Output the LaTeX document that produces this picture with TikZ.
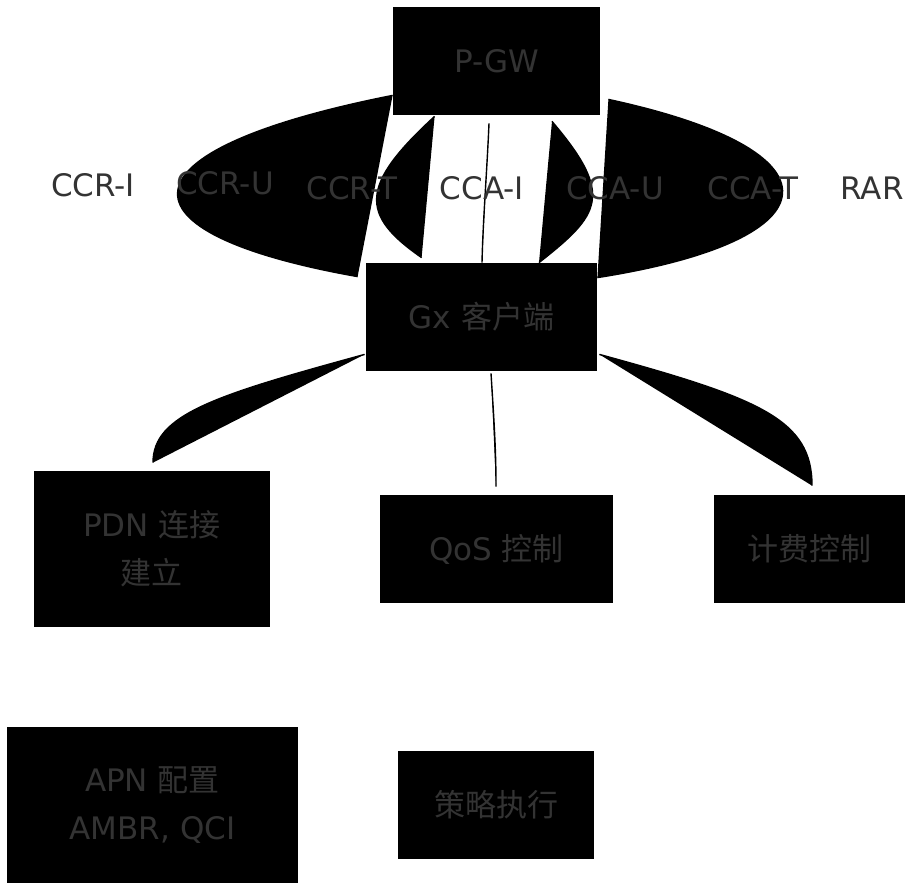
\documentclass[tikz,border=0pt]{standalone}
\usepackage{fontspec}
\setmainfont{DejaVu Sans}
\newfontfamily\cjk{Noto Sans CJK SC}
\usetikzlibrary{calc}
\usepackage{xcolor}
\definecolor{grisTexto}{RGB}{51,51,51}

\begin{document}
\begin{tikzpicture}[x=0.5pt,y=-0.5pt,
        caja/.style={rectangle,fill=black,text=grisTexto,align=center,inner sep=0pt,
                font=\fontsize{15.5}{24}\selectfont},
        etiqueta/.style={text=grisTexto,inner sep=0pt,font=\fontsize{15.5}{24}\selectfont},
        enlace/.style={fill=black,draw=black,line width=0.7pt}]
        \useasboundingbox (0,0) rectangle (905,885);
        % cajas
        \node[caja,minimum width=103.5pt,minimum height=54pt] (pgw) at (496.5,61) {P-GW};
        \node[caja,minimum width=115.5pt,minimum height=54pt] (gx) at (481.5,317) {Gx {\cjk 客户端}};
        \node[caja,minimum width=118pt,minimum height=78pt] (pdn) at (152,549) {PDN {\cjk 连接}\\{\cjk 建立}};
        \node[caja,minimum width=116.5pt,minimum height=54pt] (qos) at (496.5,549) {QoS {\cjk 控制}};
        \node[caja,minimum width=95.5pt,minimum height=54pt] (cobro) at (809.5,549) {{\cjk 计费控制}};
        \node[caja,minimum width=145.5pt,minimum height=78pt] (apn) at (152.5,805) {APN {\cjk 配置}\\AMBR, QCI};
        \node[caja,minimum width=98pt,minimum height=54pt] (politica) at (496,805) {{\cjk 策略执行}};
        % enlaces entre P-GW y Gx
        \draw[enlace] ($(pgw.south west)+(0,-20)$) .. controls +(-278,55) and +(-248,-44) .. ($(gx.north west)+(-8,14)$);
        \draw[enlace] ($(pgw.south west)+(42,1)$) .. controls +(-75,69) and +(-62,-43) .. ($(gx.north west)+(56,-5)$);
        \draw[enlace] ($(pgw.south)+(-7.5,8)$) .. controls +(-2,47) and +(1,-43) .. ($(gx.north)+(0.5,0)$);
        \draw[enlace] ($(pgw.south)+(55.5,6)$) .. controls +(63,74) and +(61,-48) .. ($(gx.north)+(57.5,0)$);
        \draw[enlace] ($(pgw.south east)+(8,-16)$) .. controls +(237,51) and +(242,-38) .. ($(gx.north east)+(0,15)$);
        % enlaces de Gx hacia abajo
        \draw[enlace] ($(gx.south west)+(-1,-17)$) .. controls +(-150,41) and +(0,-48) .. ($(pdn.north)+(1,-8)$);
        \draw[enlace] ($(gx.south)+(9.5,2)$) .. controls +(3,47) and +(0,-37) .. ($(qos.north)+(-0.5,-8)$);
        \draw[enlace] ($(gx.south east)+(2,-17)$) .. controls +(161,44) and +(0,-66) .. ($(cobro.north)+(2.5,-9)$);
        % etiquetas de mensajes
        \node[etiqueta] (ccri) at (93,185) {CCR-I};
        \node[etiqueta] (ccru) at (225,183) {CCR-U};
        \node[etiqueta] (ccrt) at (352,188) {CCR-T};
        \node[etiqueta] (ccai) at (482,188) {CCA-I};
        \node[etiqueta] (ccau) at (615,188) {CCA-U};
        \node[etiqueta] (ccat) at (753,188) {CCA-T};
        \node[etiqueta] (rar) at (872,188) {RAR};
\end{tikzpicture}
\end{document}
